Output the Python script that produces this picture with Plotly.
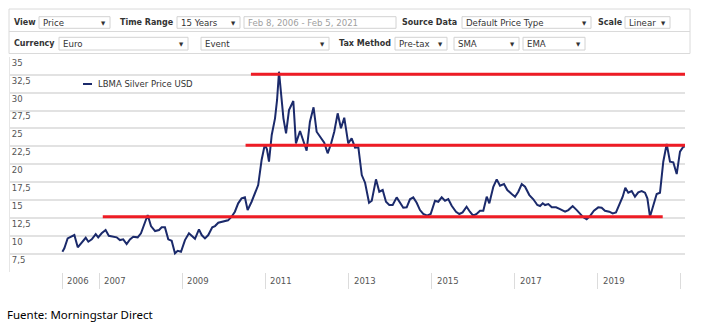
import plotly.graph_objects as go

# ---------------- data ----------------
dates = [
    "2006-02-10", "2006-02-27", "2006-03-28", "2006-04-26", "2006-05-26", "2006-06-25",
    "2006-07-30", "2006-09-03", "2006-09-26", "2006-10-26", "2006-11-30", "2006-12-22",
    "2007-01-21", "2007-02-25", "2007-03-25", "2007-05-03", "2007-06-02", "2007-07-01",
    "2007-07-30", "2007-08-29", "2007-09-27", "2007-10-26", "2007-12-04", "2008-01-02",
    "2008-01-31", "2008-03-01", "2008-03-30", "2008-05-05", "2008-06-09", "2008-07-02",
    "2008-07-31", "2008-08-29", "2008-09-28", "2008-10-27", "2008-11-20", "2008-12-19",
    "2009-01-23", "2009-02-27", "2009-03-23", "2009-04-21", "2009-05-26", "2009-06-19",
    "2009-07-18", "2009-08-16", "2009-09-20", "2009-10-14", "2009-11-12", "2010-01-01",
    "2010-02-06", "2010-03-09", "2010-04-07", "2010-05-06", "2010-06-05", "2010-07-04",
    "2010-07-28", "2010-09-01", "2010-09-30", "2010-10-29", "2010-11-28", "2010-12-27",
    "2011-01-14", "2011-02-01", "2011-02-25", "2011-03-26", "2011-04-13", "2011-04-30",
    "2011-05-18", "2011-06-08", "2011-07-01", "2011-07-27", "2011-09-03", "2011-09-26",
    "2011-11-01", "2011-11-29", "2011-12-29", "2012-01-27", "2012-02-28", "2012-03-26",
    "2012-05-03", "2012-06-01", "2012-07-01", "2012-07-30", "2012-08-28", "2012-09-27",
    "2012-10-26", "2012-11-24", "2012-12-29", "2013-01-28", "2013-02-27", "2013-03-28",
    "2013-04-27", "2013-05-26", "2013-06-30", "2013-07-24", "2013-08-30", "2013-09-28",
    "2013-10-28", "2013-11-26", "2013-12-25", "2014-01-24", "2014-02-28", "2014-03-29",
    "2014-04-27", "2014-05-27", "2014-06-25", "2014-07-24", "2014-08-23", "2014-09-21",
    "2014-10-20", "2014-11-24", "2014-12-24", "2015-01-31", "2015-03-01", "2015-03-31",
    "2015-04-29", "2015-05-28", "2015-06-27", "2015-08-04", "2015-09-02", "2015-10-01",
    "2015-11-05", "2015-12-04", "2016-01-02", "2016-02-01", "2016-03-02", "2016-03-31",
    "2016-04-30", "2016-05-23", "2016-06-27", "2016-07-27", "2016-08-25", "2016-09-29",
    "2016-10-28", "2016-12-06", "2017-01-04", "2017-02-02", "2017-03-04", "2017-04-02",
    "2017-05-10", "2017-06-14", "2017-07-19", "2017-08-12", "2017-09-05", "2017-09-25",
    "2017-10-24", "2017-11-23", "2017-12-31", "2018-02-04", "2018-03-20", "2018-04-18",
    "2018-05-26", "2018-07-01", "2018-07-30", "2018-08-28", "2018-09-26", "2018-10-25",
    "2018-11-29", "2019-01-06", "2019-02-05", "2019-03-06", "2019-04-13", "2019-05-13",
    "2019-06-11", "2019-07-10", "2019-08-09", "2019-09-01", "2019-09-27", "2019-10-27",
    "2019-11-25", "2019-12-24", "2020-01-23", "2020-02-21", "2020-03-13", "2020-04-05",
    "2020-05-04", "2020-06-03", "2020-07-02", "2020-07-31", "2020-08-30", "2020-09-28",
    "2020-10-27", "2020-11-26", "2020-12-25", "2021-01-23", "2021-02-05",
]
prices = [
    7.82, 8.30, 9.69, 9.91, 10.15, 8.44,
    9.08, 9.77, 9.22, 9.55, 10.29, 9.83,
    10.39, 10.85, 10.05, 9.91, 9.83, 9.45,
    9.55, 8.90, 9.55, 9.91, 9.83, 10.39,
    11.78, 12.94, 11.40, 10.71, 10.85, 11.22,
    11.22, 9.55, 9.36, 7.60, 7.96, 7.82,
    9.45, 10.39, 10.05, 9.63, 10.94, 10.15,
    9.69, 10.15, 11.22, 11.40, 11.86, 12.00,
    12.20, 12.70, 13.40, 14.57, 15.26, 15.40,
    13.63, 14.79, 15.96, 17.12, 20.60, 22.79,
    22.09, 20.37, 24.09, 26.41, 28.97, 32.91,
    29.90, 26.41, 24.32, 27.57, 28.83, 22.93,
    24.64, 23.39, 21.90, 25.94, 27.95, 24.55,
    23.77, 23.01, 21.54, 22.83, 24.55, 27.11,
    25.02, 26.50, 22.93, 23.63, 22.32, 22.37,
    18.51, 17.44, 14.65, 14.93, 17.91, 16.18,
    16.42, 14.79, 14.33, 14.33, 15.40, 14.57,
    13.95, 14.01, 15.13, 15.40, 14.65, 13.63,
    13.08, 12.84, 13.08, 14.93, 14.79, 15.40,
    14.93, 15.17, 14.23, 13.40, 13.08, 13.31,
    14.09, 13.40, 12.84, 13.08, 13.54, 13.54,
    15.49, 14.57, 16.88, 17.91, 17.02, 17.26,
    16.42, 15.86, 15.49, 16.18, 17.26, 16.88,
    15.72, 15.13, 14.33, 14.19, 14.57, 14.33,
    14.47, 14.01, 14.01, 13.77, 13.40, 13.63,
    14.19, 13.63, 13.08, 12.62, 12.34, 12.80,
    13.54, 14.01, 13.95, 13.54, 13.40, 13.17,
    13.31, 14.47, 15.49, 16.74, 16.05, 16.28,
    15.49, 16.10, 16.28, 16.05, 15.26, 12.70,
    14.09, 15.86, 16.05, 20.37, 22.83, 20.37,
    20.28, 18.65, 21.76, 22.46, 22.46,
]
series_name = "LBMA Silver Price USD"

y_tick_vals = [5, 7.5, 10, 12.5, 15, 17.5, 20, 22.5, 25, 27.5, 30, 32.5, 35]
y_tick_text = ["", "7,5", "10", "12,5", "15", "17,5", "20", "22,5", "25", "27,5", "30", "32,5", "35"]

year_tick_dates = ["2006-02-08", "2007-01-01", "2009-01-01", "2011-01-01", "2013-01-01",
                   "2015-01-01", "2017-01-01", "2019-01-01", "2021-01-01"]
year_tick_text = ["2006", "2007", "2009", "2011", "2013", "2015", "2017", "2019", ""]

# horizontal red reference levels drawn on the chart
level_values = [12.7, 22.65, 32.55]
level_starts = ["2007-01-31", "2010-07-10", "2010-08-26"]
level_ends = ["2020-07-26", "2021-03-01", "2021-03-01"]

footer = "Fuente: Morningstar Direct"

# toolbar widgets: (kind, text, row, x0, x1, has_arrow)
toolbar = [
    ("label", "View", 0, 12, None, False),
    ("box", "Price", 0, 39, 110, True),
    ("label", "Time Range", 0, 118, None, False),
    ("box", "15 Years", 0, 177, 240, True),
    ("date", "Feb 8, 2006 - Feb 5, 2021", 0, 244, 396, False),
    ("label", "Source Data", 0, 400, None, False),
    ("box", "Default Price Type", 0, 462, 591, True),
    ("label", "Scale", 0, 596, None, False),
    ("box", "Linear", 0, 625, 670, True),
    ("label", "Currency", 1, 12, None, False),
    ("box", "Euro", 1, 59, 188, True),
    ("box", "Event", 1, 201, 329, True),
    ("label", "Tax Method", 1, 337, None, False),
    ("box", "Pre-tax", 1, 395, 447, True),
    ("box", "SMA", 1, 454, 519, True),
    ("box", "EMA", 1, 523, 585, True),
]

# ---------------- layout helpers ----------------
W, H = 713, 331
PL, PR, PT, PB = 10, 685, 56.7, 272


def fx(px):
    return px / W


def fy(py):
    return 1 - py / H


FONT = "DejaVu Sans"
NAVY = "#1b2a6b"
RED = "#ee1c25"

fig = go.Figure()
fig.add_trace(go.Scatter(
    x=dates, y=prices, mode="lines", name=series_name,
    line=dict(color=NAVY, width=2), showlegend=False,
))

shapes = []
annotations = []

# red level lines
for v, s, e in zip(level_values, level_starts, level_ends):
    shapes.append(dict(type="line", xref="x", yref="y", x0=s, x1=e, y0=v, y1=v,
                       line=dict(color=RED, width=3), layer="above"))

# year labels in the bottom band
for d, t in zip(year_tick_dates, year_tick_text):
    if t:
        annotations.append(dict(x=d, xref="x", y=fy(281), yref="paper", text=t,
                                showarrow=False, xanchor="left", yanchor="middle", xshift=3,
                                font=dict(family=FONT, size=8.5, color="#555555")))

# legend (manual)
shapes.append(dict(type="line", xref="paper", yref="paper", x0=fx(83), x1=fx(92),
                   y0=fy(84), y1=fy(84), line=dict(color=NAVY, width=2)))
annotations.append(dict(x=fx(96), y=fy(84), xref="paper", yref="paper", text=series_name,
                        showarrow=False, xanchor="left", yanchor="middle",
                        font=dict(family=FONT, size=8.5, color="#333333")))

# toolbar frame
LINE_C = "#dadada"
shapes.append(dict(type="rect", xref="paper", yref="paper", x0=fx(9), x1=fx(690),
                   y0=fy(53.5), y1=fy(9), line=dict(color=LINE_C, width=1),
                   fillcolor="white", layer="below"))
shapes.append(dict(type="line", xref="paper", yref="paper", x0=fx(9), x1=fx(690),
                   y0=fy(31.5), y1=fy(31.5), line=dict(color=LINE_C, width=1)))

rows = [(16.7, 28.3), (37.3, 50.0)]
for kind, text, row, x0, x1, arrow in toolbar:
    r0, r1 = rows[row]
    yc = (r0 + r1) / 2
    if kind == "label":
        annotations.append(dict(x=fx(x0), y=fy(yc), xref="paper", yref="paper",
                                text="<b>%s</b>" % text, showarrow=False,
                                xanchor="left", yanchor="middle",
                                font=dict(family=FONT, size=8, color="#333333")))
    else:
        shapes.append(dict(type="rect", xref="paper", yref="paper", x0=fx(x0), x1=fx(x1),
                           y0=fy(r1), y1=fy(r0), line=dict(color="#d2d2d2", width=1),
                           fillcolor="white"))
        annotations.append(dict(x=fx(x0 + 2), y=fy(yc), xref="paper", yref="paper",
                                text=text, showarrow=False, xanchor="left", yanchor="middle",
                                font=dict(family=FONT, size=8.6,
                                          color="#a0a0a0" if kind == "date" else "#333333")))
        if arrow:
            annotations.append(dict(x=fx(x1 - 7), y=fy(yc), xref="paper", yref="paper",
                                    text="▼", showarrow=False, xanchor="center",
                                    yanchor="middle",
                                    font=dict(family=FONT, size=5.5, color="#333333")))

# footer
annotations.append(dict(x=fx(5), y=fy(314), xref="paper", yref="paper", text=footer,
                        showarrow=False, xanchor="left", yanchor="middle",
                        font=dict(family="Noto Sans", size=11.5, color="#000000")))

fig.update_layout(
    width=W, height=H,
    margin=dict(l=0, r=0, t=0, b=0),
    paper_bgcolor="white", plot_bgcolor="white",
    showlegend=False,
    shapes=shapes, annotations=annotations,
    xaxis=dict(
        type="date", domain=[fx(PL), fx(PR)],
        range=["2004-11-06", "2021-02-07"],
        showgrid=False, zeroline=False, showline=False,
        tickmode="array", tickvals=year_tick_dates, ticktext=[""] * len(year_tick_dates),
        ticks="outside", ticklen=16, tickwidth=1, tickcolor="#dcdcdc",
        fixedrange=True,
    ),
    yaxis=dict(
        domain=[fy(PB), fy(PT)], range=[5, 35],
        tickmode="array", tickvals=y_tick_vals, ticktext=y_tick_text,
        ticklabelposition="inside bottom",
        showgrid=True, gridcolor="#e2e2e2", gridwidth=1.5,
        zeroline=False, showline=True, linecolor="#e6e6e6", linewidth=1,
        ticks="", tickfont=dict(family=FONT, size=8.5, color="#555555"),
        fixedrange=True,
    ),
)

fig.write_html("out.html")
